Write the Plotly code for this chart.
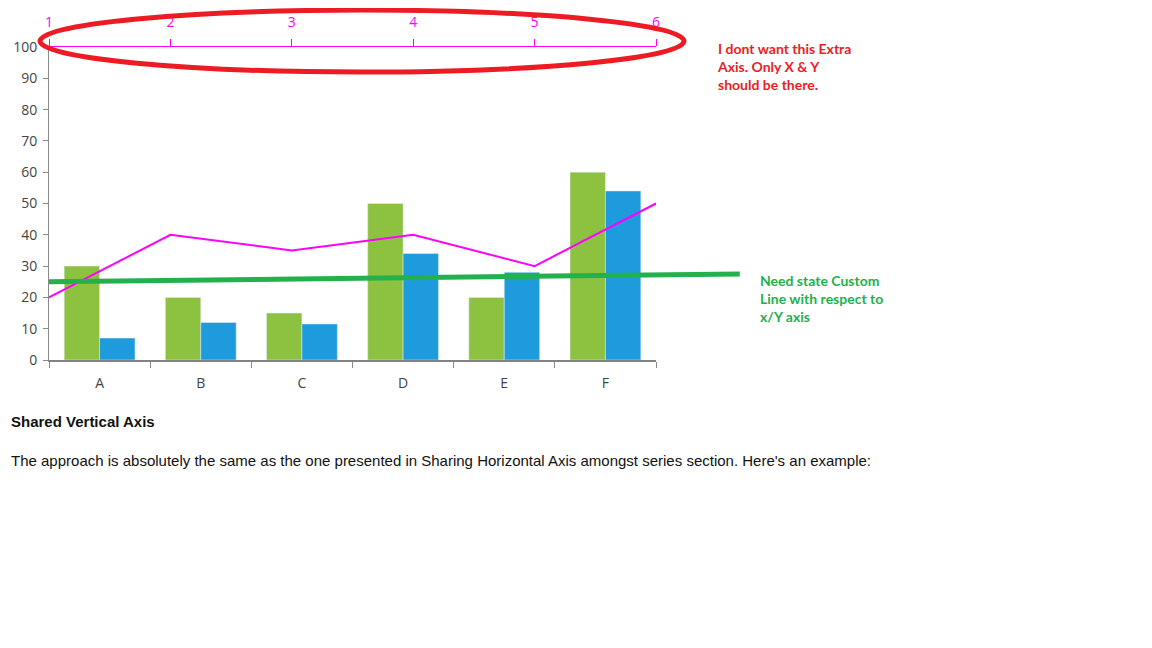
from __future__ import annotations

import plotly.graph_objects as go

# chart values
categories = ["A", "B", "C", "D", "E", "F"]
green_values = [30, 20, 15, 50, 20, 60]
blue_values = [7, 12, 11.5, 34, 28, 54]

top_axis_ticks = [1, 2, 3, 4, 5, 6]
magenta_values = [20, 40, 35, 40, 30, 50]

# hand-drawn "custom line", x in top-axis units (it runs past the plot)
custom_line_x = [0.98, 2.0, 3.0, 4.0, 5.0, 6.0, 6.69]
custom_line_y = [25, 25.5, 26, 26.4, 26.8, 27.2, 27.5]

GREEN = "#8dc241"
BLUE = "#1d9bdc"
MAGENTA = "#ff00ff"
AXIS_GREY = "#8a8a8a"

# main plot spans 49..656 px, the overlay strip for the hand line 49..740 px
MAIN_DOMAIN = 607 / 691


def build_figure() -> go.Figure:
    figure = go.Figure()
    figure.add_trace(
        go.Bar(x=categories, y=green_values, marker_color=GREEN, name="Series 1")
    )
    figure.add_trace(
        go.Bar(x=categories, y=blue_values, marker_color=BLUE, name="Series 2")
    )
    figure.add_trace(
        go.Scatter(
            x=top_axis_ticks,
            y=magenta_values,
            xaxis="x2",
            mode="lines",
            line={"color": MAGENTA, "width": 2},
            name="Line",
        )
    )
    figure.add_trace(
        go.Scatter(
            x=custom_line_x,
            y=custom_line_y,
            xaxis="x3",
            mode="lines",
            line={"color": "#22b14c", "width": 5},
            name="Custom line",
        )
    )

    span = top_axis_ticks[-1] - top_axis_ticks[0]
    x3_end = top_axis_ticks[0] + span / MAIN_DOMAIN

    # the page body adds 8px all round, so the figure is 8px smaller
    figure.update_layout(
        width=1144,
        height=640,
        margin={"l": 41, "r": 412, "t": 39, "b": 288},
        paper_bgcolor="white",
        plot_bgcolor="rgba(0,0,0,0)",
        showlegend=False,
        barmode="group",
        bargap=0.3,
        bargroupgap=0,
        font={"family": "Open Sans, sans-serif", "size": 14, "color": "#333"},
        xaxis={
            "domain": [0, MAIN_DOMAIN],
            "type": "category",
            "tickson": "boundaries",
            "ticks": "outside",
            "ticklen": 6,
            "tickcolor": AXIS_GREY,
            "showline": True,
            "linecolor": "rgba(90,90,90,0.75)",
            "linewidth": 2,
            "showgrid": False,
            "ticklabelstandoff": 9,
            "tickfont": {"color": "#444"},
            "automargin": False,
        },
        xaxis2={
            "overlaying": "x",
            "side": "top",
            "anchor": "y",
            "range": [top_axis_ticks[0], top_axis_ticks[-1]],
            "tickvals": top_axis_ticks,
            "ticks": "outside",
            "ticklen": 7,
            "tickcolor": MAGENTA,
            "showline": True,
            "linecolor": MAGENTA,
            "linewidth": 1,
            "showgrid": False,
            "zeroline": False,
            "tickfont": {"color": MAGENTA},
            "ticklabelstandoff": 6,
            "automargin": False,
        },
        xaxis3={
            "domain": [0, 1],
            "anchor": "y",
            "range": [top_axis_ticks[0], x3_end],
            "visible": False,
        },
        yaxis={
            "range": [0, 100],
            "dtick": 10,
            "ticks": "outside",
            "ticklen": 5,
            "tickcolor": AXIS_GREY,
            "showline": True,
            "linecolor": AXIS_GREY,
            "linewidth": 1,
            "showgrid": False,
            "zeroline": False,
            "ticklabelstandoff": 3,
            "tickfont": {"color": "#444"},
            "automargin": False,
        },
    )

    # red markup ellipse round the unwanted top axis
    figure.add_shape(
        type="circle",
        xref="paper",
        yref="paper",
        x0=-0.013,
        x1=0.919,
        y0=0.92,
        y1=1.118,
        line={"color": "#ed1c24", "width": 5},
    )

    figure.add_annotation(
        xref="paper",
        yref="paper",
        x=0.964,
        y=1.029,
        xanchor="left",
        yanchor="top",
        align="left",
        showarrow=False,
        text="<b>I dont want this Extra<br>Axis. Only X &amp; Y<br>should be there.</b>",
        font={"family": "Lato, sans-serif", "size": 14, "color": "#ed1c24"},
    )
    figure.add_annotation(
        xref="paper",
        yref="paper",
        x=1.026,
        y=0.2875,
        xanchor="left",
        yanchor="top",
        align="left",
        showarrow=False,
        text="<b>Need state Custom<br>Line with respect to<br>x/Y axis</b>",
        font={"family": "Lato, sans-serif", "size": 14, "color": "#22b14c"},
    )
    figure.add_annotation(
        xref="paper",
        yref="paper",
        x=-0.058,
        y=-0.198,
        xanchor="left",
        yanchor="middle",
        showarrow=False,
        text="<b>Shared Vertical Axis</b>",
        font={"family": "Liberation Sans, Arial, sans-serif", "size": 15, "color": "#111"},
    )
    figure.add_annotation(
        xref="paper",
        yref="paper",
        x=-0.058,
        y=-0.3195,
        xanchor="left",
        yanchor="middle",
        showarrow=False,
        text=(
            "The approach is absolutely the same as the one presented in "
            "Sharing Horizontal Axis amongst series section. Here's an example:"
        ),
        font={"family": "Liberation Sans, Arial, sans-serif", "size": 15, "color": "#111"},
    )
    return figure


fig = build_figure()
fig.write_html("out.html")
